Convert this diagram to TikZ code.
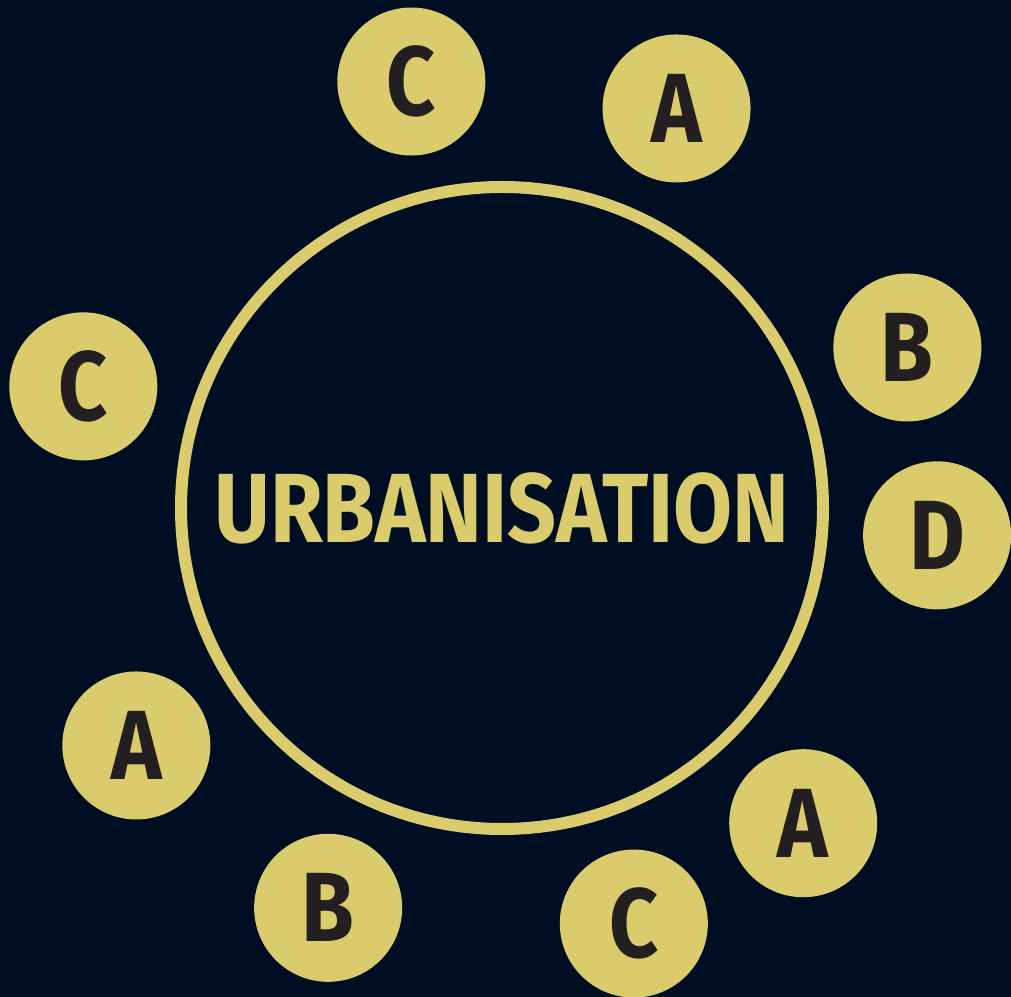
\documentclass[tikz,border=0pt]{standalone}
\usepackage{fontspec}
\usepackage{xcolor}
\usepackage{tikz}
\newfontfamily\dinfont{Fira Sans}[FakeStretch=0.87]
\definecolor{bgnavy}{HTML}{000E24}
\definecolor{mustard}{HTML}{DACC6C}
\definecolor{inkdark}{HTML}{231F20}
\tikzset{
  hub/.style={circle, draw=mustard, line width=0.12cm, minimum size=6.42cm,
    inner sep=0pt, text=mustard, font=\dinfont\bfseries\fontsize{28}{30}\selectfont},
  bubble/.style={circle, fill=mustard, minimum size=1.48cm, inner sep=0pt,
    text=inkdark, font=\dinfont\bfseries\fontsize{28}{30}\selectfont}
}

\begin{document}
\begin{tikzpicture}
  \useasboundingbox[fill=bgnavy] (-5.02,-4.89) rectangle (5.09,5.08);

  % 中央の円
  \node[hub] (urban) at (0,0) {URBANISATION};

  % 周りの小さな円 (角度/文字)
  \foreach \ang/\lbl [count=\i] in {102/C, 66.4/A, 21.6/B, -3.6/D, -46.3/A,
                                     -72.4/C, -113.5/B, -147/A, 163.8/C}
  \node[bubble] (s_\i) at (\ang:4.36) {\lbl};
\end{tikzpicture}
\end{document}
